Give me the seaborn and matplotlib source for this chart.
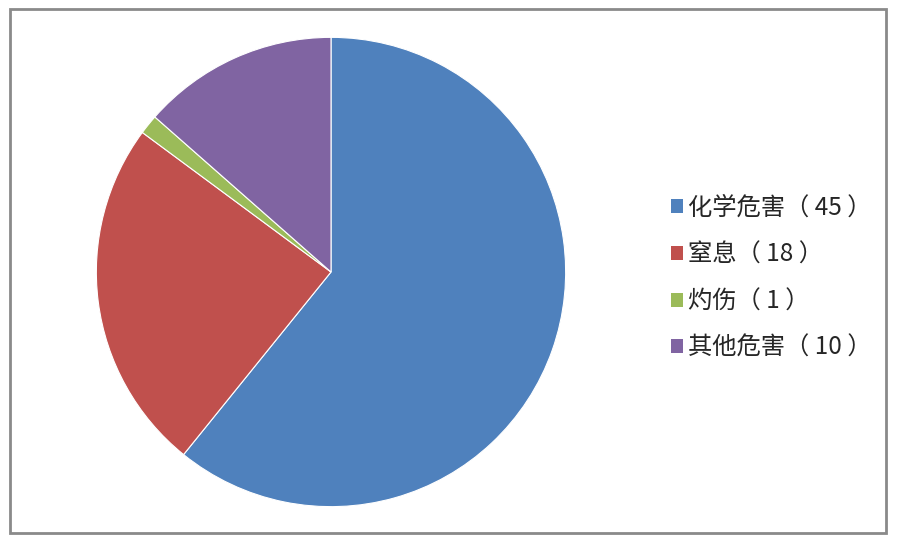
import matplotlib.pyplot as plt
import matplotlib.patches as mpatches
import seaborn as sns

# categories and counts
categories = ['化学危害', '窒息', '灼伤', '其他危害']
counts = [45, 18, 1, 10]
colors = ['#4F81BD', '#C0504D', '#9BBB59', '#8064A2']

sns.set_theme(style='white')
plt.rcParams['font.family'] = ['Noto Sans CJK SC', 'DejaVu Sans']

fig = plt.figure(figsize=(9, 5.47), dpi=100)
fig.patch.set_facecolor('white')

# outer grey frame
frame = mpatches.Rectangle((10 / 900, 14 / 547), 876 / 900, 524 / 547,
                           transform=fig.transFigure, fill=False,
                           edgecolor='#8a8a8a', linewidth=2)
fig.patches.append(frame)

ax = fig.add_axes([94 / 900, 38 / 547, 474 / 900, 474 / 547])
wedges, _ = ax.pie(counts, colors=colors, startangle=90, counterclock=False,
                   radius=1, wedgeprops=dict(edgecolor='white', linewidth=0.8))
ax.set_xlim(-1.01, 1.01)
ax.set_ylim(-1.01, 1.01)
ax.set_aspect('equal')
ax.axis('off')

labels = [f'{c}（ {n} ）' for c, n in zip(categories, counts)]
handles = [mpatches.Patch(facecolor=col, edgecolor='none') for col in colors]
fig.legend(handles, labels, loc='center left', bbox_to_anchor=(661 / 900, 1 - 278 / 547),
           frameon=False, fontsize=17.5, handlelength=0.5, handleheight=0.5,
           handletextpad=0.2, labelspacing=0.85, borderaxespad=0)

fig.savefig('out.png', dpi=100, facecolor='white')
